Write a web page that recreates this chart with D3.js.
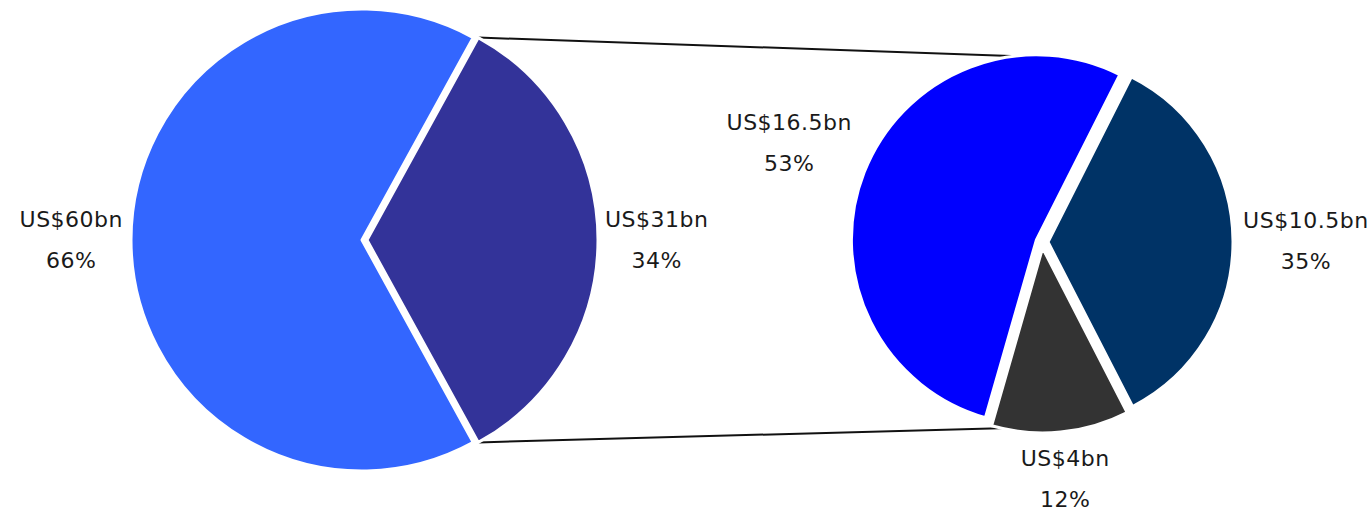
<!DOCTYPE html>
<html>
<head>
<meta charset="utf-8">
<script src="https://cdn.jsdelivr.net/npm/d3@7"></script>
<style>
  body { margin: 0; background: #fff; }
  svg { display: block; }
  .lbl { font-family: "DejaVu Sans", sans-serif; font-size: 22px; letter-spacing: 0.5px; fill: #1a1a1a; }
</style>
</head>
<body>
<svg id="chart" width="1372" height="513"></svg>
<script>
// main pie (share of total)
var mainShares = [66, 34];
var mainAmounts = ['US$60bn', 'US$31bn'];
var mainPct = ['66%', '34%'];
var mainColors = ['#3366ff', '#333399'];

// secondary pie (breakdown of the 34% slice)
var subShares = [53, 35, 12];
var subAmounts = ['US$16.5bn', 'US$10.5bn', 'US$4bn'];
var subPct = ['53%', '35%', '12%'];
var subColors = ['#0000ff', '#003366', '#333333'];

(function() {
	'use strict';

	var svg = d3.select('#chart');

	var main = { cx: 364, cy: 240, r: 231, explode: [2, 3], pad: 10 },
		sub = { cx: 1042, cy: 242, r: 185, explode: [6, 6, 6], pad: 16 };

	// dark slice of the main pie centred on the right (90deg)
	var mainStart = Math.PI / 2 - 2 * Math.PI * (1 - mainShares[1] / 200);
	var mainPie = d3.pie().sort(null).value(function(d) { return d; })
		.startAngle(mainStart).endAngle(mainStart + 2 * Math.PI);
	var subStart = -164 * Math.PI / 180;
	var subPie = d3.pie().sort(null).value(function(d) { return d; })
		.startAngle(subStart).endAngle(subStart + 2 * Math.PI);

	var mainArcs = mainPie(mainShares),
		subArcs = subPie(subShares);

	function offset(a, dist) {
		var mid = (a.startAngle + a.endAngle) / 2;
		return [Math.sin(mid) * dist, -Math.cos(mid) * dist];
	}

	function edgePoint(p, angle, o) {
		return [p.cx + o[0] + p.r * Math.sin(angle), p.cy + o[1] - p.r * Math.cos(angle)];
	}

	// connector lines, drawn under the pies
	var dark = mainArcs[1],
		darkOff = offset(dark, main.explode[1]);
	var links = [
		[edgePoint(main, dark.startAngle, darkOff), [sub.cx, sub.cy - sub.r]],
		[edgePoint(main, dark.endAngle, darkOff), [sub.cx, sub.cy + sub.r]]
	];
	svg.selectAll('.link')
		.data(links)
		.enter()
		.append('line')
		.attr('class', 'link')
		.attr('x1', function(d) { return d[0][0]; })
		.attr('y1', function(d) { return d[0][1]; })
		.attr('x2', function(d) { return d[1][0]; })
		.attr('y2', function(d) { return d[1][1]; })
		.attr('stroke', '#111')
		.attr('stroke-width', 2);

	function drawPie(p, arcs, colors, amounts, pcts) {
		var arc = d3.arc().innerRadius(0).outerRadius(p.r);
		var g = svg.append('g');

		g.selectAll('path')
			.data(arcs)
			.enter()
			.append('path')
			.attr('d', arc)
			.attr('fill', function(d, i) { return colors[i]; })
			.attr('stroke', '#fff')
			.attr('stroke-width', 3)
			.attr('stroke-linejoin', 'round')
			.attr('transform', function(d, i) {
				var o = offset(d, p.explode[i]);
				return 'translate(' + (p.cx + o[0]) + ',' + (p.cy + o[1]) + ')';
			});

		// two-line labels outside each slice
		arcs.forEach(function(d, i) {
			var t = svg.append('text').attr('class', 'lbl').attr('text-anchor', 'middle');
			t.append('tspan').attr('x', 0).attr('y', 0).text(amounts[i]);
			t.append('tspan').attr('x', 0).attr('y', 41).text(pcts[i]);
			var bb = t.node().getBBox(),
				mid = (d.startAngle + d.endAngle) / 2,
				s = Math.sin(mid),
				c = -Math.cos(mid),
				dist = p.r + p.pad + Math.abs(s) * bb.width / 2 + Math.abs(c) * bb.height / 2,
				px = p.cx + s * dist,
				py = p.cy + c * dist;
			t.attr('transform', 'translate(' + (px - bb.x - bb.width / 2) + ',' + (py - bb.y - bb.height / 2) + ')');
		});
	}

	drawPie(main, mainArcs, mainColors, mainAmounts, mainPct);
	drawPie(sub, subArcs, subColors, subAmounts, subPct);
})();
</script>
</body>
</html>
